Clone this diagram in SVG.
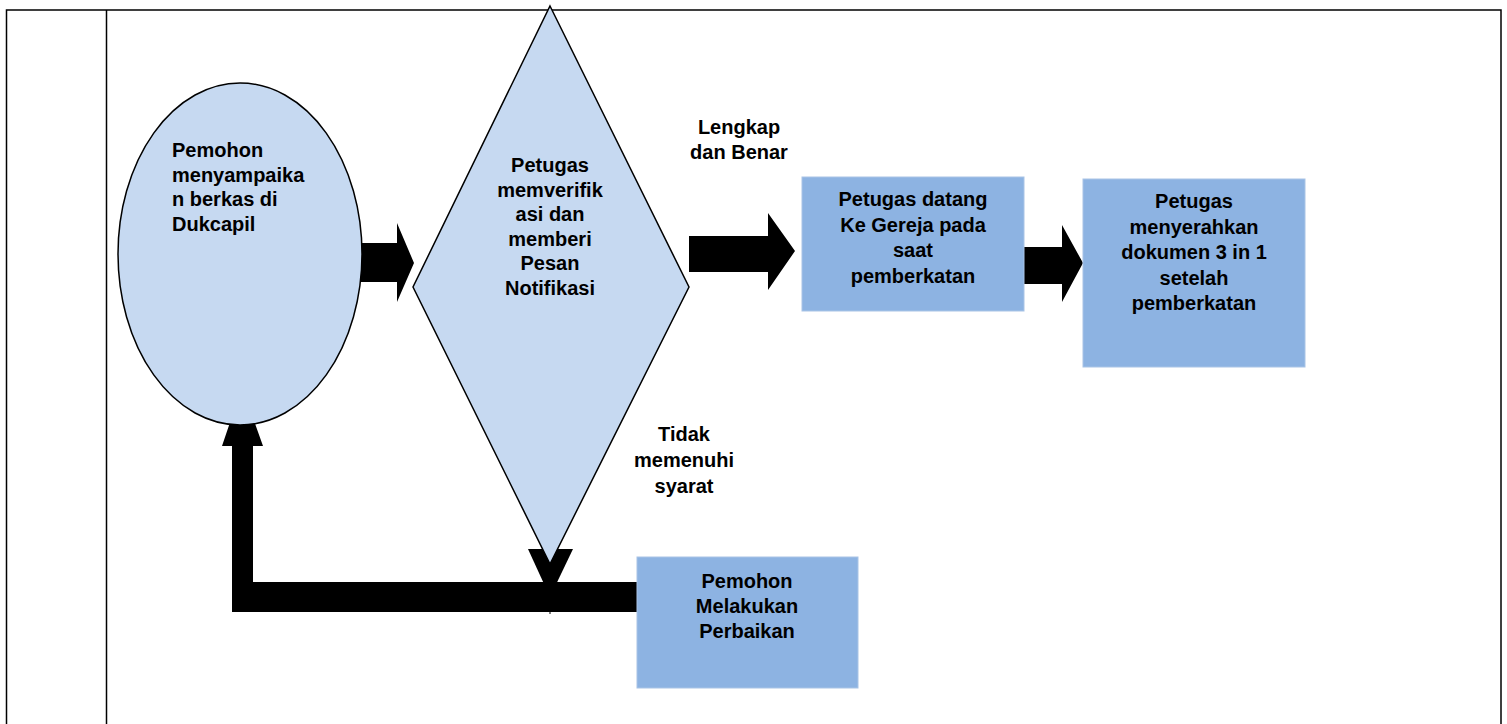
<svg xmlns="http://www.w3.org/2000/svg" width="1507" height="724" viewBox="0 0 1507 724">
<style>
.t{font-family:"Liberation Sans",Arial,sans-serif;font-weight:bold;font-size:20px;fill:#000}
.c{text-anchor:middle}
.light{fill:#c6d9f1;stroke:#000;stroke-width:1.5}
.box{fill:#8db3e2;stroke:#a9c4e6;stroke-width:1}
.arr{fill:#000}
.frame{stroke:#000;stroke-width:1.5;fill:none}
</style>
<rect width="1507" height="724" fill="#fff"/>
<g id="frame">
<path class="frame" d="M6.5,724 V10 H1501 V724 M106.5,10 V724"/>
</g>
<g id="connectors">
<polygon class="arr" points="360,243 397,243 397,223 414,263 397,302 397,282 360,282"/>
<polygon class="arr" points="689,236 768,236 768,213 795,251 768,290 768,272 689,272"/>
<polygon class="arr" points="1024,247 1062,247 1062,225 1083,263 1062,302 1062,284 1024,284"/>
<polygon class="arr" points="637,582 637,612 232,612 232,446 222,446 242,387 263,446 253,446 253,582"/>
<polygon class="arr" points="528,549 573,549 550,597"/>
<line x1="550" y1="583" x2="550" y2="614" stroke="#000" stroke-width="1"/>
</g>
<g id="n1">
<ellipse class="light" cx="240" cy="254" rx="122" ry="171"/>
<text class="t" x="172" y="157">Pemohon</text>
<text class="t" x="172" y="181.5">menyampaika</text>
<text class="t" x="172" y="206">n berkas di</text>
<text class="t" x="172" y="230.5">Dukcapil</text>
</g>
<g id="n2">
<polygon class="light" points="550,6 689,287 550,564 413,287"/>
<text class="t c" x="550" y="172">Petugas</text>
<text class="t c" x="550" y="196.5">memverifik</text>
<text class="t c" x="550" y="221">asi dan</text>
<text class="t c" x="550" y="245.5">memberi</text>
<text class="t c" x="550" y="270">Pesan</text>
<text class="t c" x="550" y="294.5">Notifikasi</text>
</g>
<g id="lbl1">
<text class="t c" x="739" y="134">Lengkap</text>
<text class="t c" x="739" y="159">dan Benar</text>
</g>
<g id="n3">
<rect class="box" x="802" y="177" width="222" height="134"/>
<text class="t c" x="913" y="206">Petugas datang</text>
<text class="t c" x="913" y="231.5">Ke Gereja pada</text>
<text class="t c" x="913" y="257">saat</text>
<text class="t c" x="913" y="282.5">pemberkatan</text>
</g>
<g id="n4">
<rect class="box" x="1083" y="179" width="222" height="188"/>
<text class="t c" x="1194" y="208">Petugas</text>
<text class="t c" x="1194" y="233.5">menyerahkan</text>
<text class="t c" x="1194" y="259">dokumen 3 in 1</text>
<text class="t c" x="1194" y="284.5">setelah</text>
<text class="t c" x="1194" y="310">pemberkatan</text>
</g>
<g id="lbl2">
<text class="t c" x="684" y="441">Tidak</text>
<text class="t c" x="684" y="467">memenuhi</text>
<text class="t c" x="684" y="492.5">syarat</text>
</g>
<g id="n5">
<rect class="box" x="637" y="557" width="221" height="131"/>
<text class="t c" x="747" y="588">Pemohon</text>
<text class="t c" x="747" y="612.5">Melakukan</text>
<text class="t c" x="747" y="638">Perbaikan</text>
</g>
</svg>
